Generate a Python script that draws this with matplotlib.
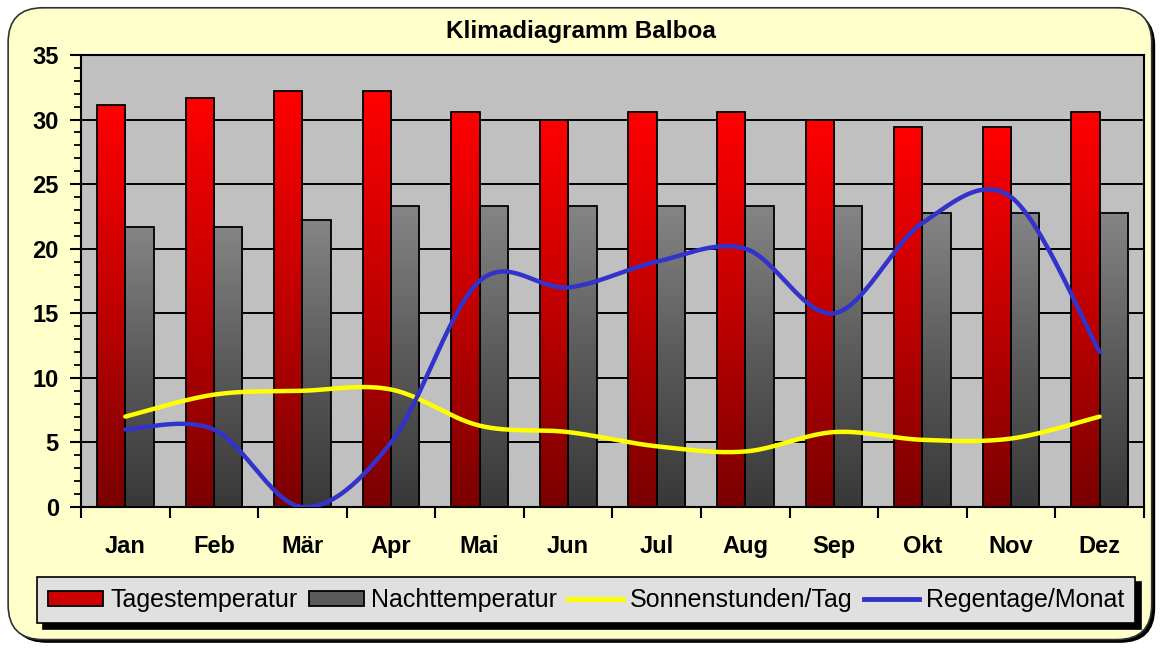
import numpy as np
import matplotlib
matplotlib.use("Agg")
import matplotlib.pyplot as plt
from matplotlib.patches import FancyBboxPatch
from matplotlib.colors import LinearSegmentedColormap

#%% data
monate = ["Jan", "Feb", "Mär", "Apr", "Mai", "Jun", "Jul", "Aug", "Sep", "Okt", "Nov", "Dez"]
tagestemp = [31.1, 31.7, 32.2, 32.2, 30.6, 30.0, 30.6, 30.6, 30.0, 29.4, 29.4, 30.6]
nachttemp = [21.7, 21.7, 22.2, 23.3, 23.3, 23.3, 23.3, 23.3, 23.3, 22.8, 22.8, 22.8]
sonnenstunden = [7.0, 8.7, 9.0, 9.1, 6.3, 5.8, 4.7, 4.3, 5.8, 5.2, 5.3, 7.0]
regentage = [6, 6, 0, 5, 17.5, 17, 19, 20, 15, 22, 24, 12]

plt.rcParams["font.family"] = ["Liberation Sans", "DejaVu Sans"]


def smoothLine(x, y, n=30):
    # excel-like smoothed line (bezier through points, catmull-rom tangents)
    x = np.asarray(x, dtype=float)
    y = np.asarray(y, dtype=float)
    px = np.concatenate([[x[0]], x, [x[-1]]])
    py = np.concatenate([[y[0]], y, [y[-1]]])
    outx, outy = [], []
    t = np.linspace(0, 1, n)
    for i in range(1, len(px) - 2):
        p0x, p1x, p2x, p3x = px[i - 1], px[i], px[i + 1], px[i + 2]
        p0y, p1y, p2y, p3y = py[i - 1], py[i], py[i + 1], py[i + 2]
        c1x, c1y = p1x + (p2x - p0x) / 6, p1y + (p2y - p0y) / 6
        c2x, c2y = p2x - (p3x - p1x) / 6, p2y - (p3y - p1y) / 6
        bx = (1 - t) ** 3 * p1x + 3 * (1 - t) ** 2 * t * c1x + 3 * (1 - t) * t**2 * c2x + t**3 * p2x
        by = (1 - t) ** 3 * p1y + 3 * (1 - t) ** 2 * t * c1y + 3 * (1 - t) * t**2 * c2y + t**3 * p2y
        outx.extend(bx)
        outy.extend(by)
    return np.array(outx), np.array(outy)


def gradientBars(ax, bars, cmap):
    grad = np.linspace(1, 0, 256).reshape(-1, 1)
    for b in bars:
        x0, y0 = b.get_x(), b.get_y()
        w, h = b.get_width(), b.get_height()
        im = ax.imshow(grad, cmap=cmap, aspect="auto", extent=[x0, x0 + w, y0, y0 + h],
                       zorder=2, interpolation="bicubic")
        im.set_clip_path(b)


#%% figure
fig = plt.figure(figsize=(11.61, 6.48), dpi=100)
fig.patch.set_facecolor("white")

# chart area with rounded corners + shadow
shadow = FancyBboxPatch((0.010, 0.008), 0.985, 0.975, boxstyle="round,pad=0,rounding_size=0.03",
                        transform=fig.transFigure, facecolor="black", edgecolor="none",
                        mutation_aspect=1161 / 648, zorder=-3)
chartBox = FancyBboxPatch((0.007, 0.013), 0.985, 0.975, boxstyle="round,pad=0,rounding_size=0.03",
                          transform=fig.transFigure, facecolor="#FFFFCC", edgecolor="#333333",
                          linewidth=1.2, mutation_aspect=1161 / 648, zorder=-2)
fig.patches.extend([shadow, chartBox])

ax = fig.add_axes([0.0698, 0.2176, 0.9155, 0.6975])
ax.set_facecolor("#C0C0C0")

x = np.arange(len(monate))
w = 0.32
redMap = LinearSegmentedColormap.from_list("rot", ["#7A0000", "#C00000", "#FF0000"])
greyMap = LinearSegmentedColormap.from_list("grau", ["#383838", "#5A5A5A", "#858585"])

barsT = ax.bar(x - w / 2, tagestemp, w, facecolor="none", edgecolor="black", linewidth=1.3,
               zorder=3, label="Tagestemperatur")
barsN = ax.bar(x + w / 2, nachttemp, w, facecolor="none", edgecolor="black", linewidth=1.3,
               zorder=3, label="Nachttemperatur")
gradientBars(ax, barsT, redMap)
gradientBars(ax, barsN, greyMap)

sx, sy = smoothLine(x, sonnenstunden)
ax.plot(sx, sy, color="#FFFF00", linewidth=3.2, zorder=4, solid_capstyle="round")
rx, ry = smoothLine(x, regentage)
ax.plot(rx, ry, color="#3333CC", linewidth=3.2, zorder=5, solid_capstyle="round")

ax.set_xlim(-0.5, len(monate) - 0.5)
ax.set_ylim(0, 35)
ax.set_yticks(range(0, 36, 5))
ax.set_yticks(range(0, 36, 1), minor=True)
ax.grid(axis="y", which="major", color="black", linewidth=1.4, zorder=1)
ax.set_axisbelow(True)

# x ticks at category borders, labels at centres
ax.set_xticks(np.arange(-0.5, len(monate), 1))
ax.set_xticklabels([])
ax.set_xticks(x, minor=True)
ax.set_xticklabels(monate, minor=True, fontsize=17, fontweight="bold")
ax.tick_params(axis="x", which="major", direction="out", length=8, width=1.5)
ax.tick_params(axis="x", which="minor", length=0, pad=20)
ax.tick_params(axis="y", which="major", direction="out", length=8, width=1.5, labelsize=17, pad=8)
ax.tick_params(axis="y", which="minor", direction="out", length=5, width=1.3)
for lab in ax.get_yticklabels():
    lab.set_fontweight("bold")
for s in ax.spines.values():
    s.set_linewidth(1.5)

fig.text(0.5, 0.951, "Klimadiagramm Balboa", ha="center", va="center", fontsize=17.5, fontweight="bold")

handles = [
    plt.Rectangle((0, 0), 1, 1, facecolor="#CC0000", edgecolor="black", linewidth=1.3),
    plt.Rectangle((0, 0), 1, 1, facecolor="#5A5A5A", edgecolor="black", linewidth=1.3),
    plt.Line2D([], [], color="#FFFF00", linewidth=3.5),
    plt.Line2D([], [], color="#3333CC", linewidth=3.5),
]
labels = ["Tagestemperatur", "Nachttemperatur", "Sonnenstunden/Tag", "Regentage/Monat"]
leg = fig.legend(handles, labels, ncol=4, loc="center", bbox_to_anchor=(0.505, 0.074),
                 fontsize=18, frameon=True, fancybox=False, handlelength=2.2, handleheight=0.56,
                 handletextpad=0.28, columnspacing=0.45, borderpad=0.45, borderaxespad=0,
                 shadow={"ox": 4, "oy": -4, "color": "black", "alpha": 1})
leg.get_frame().set_facecolor("#E0E0E0")
leg.get_frame().set_edgecolor("black")
leg.get_frame().set_linewidth(1.2)
leg.get_frame().set_alpha(1)

fig.savefig("out.png", dpi=100)
